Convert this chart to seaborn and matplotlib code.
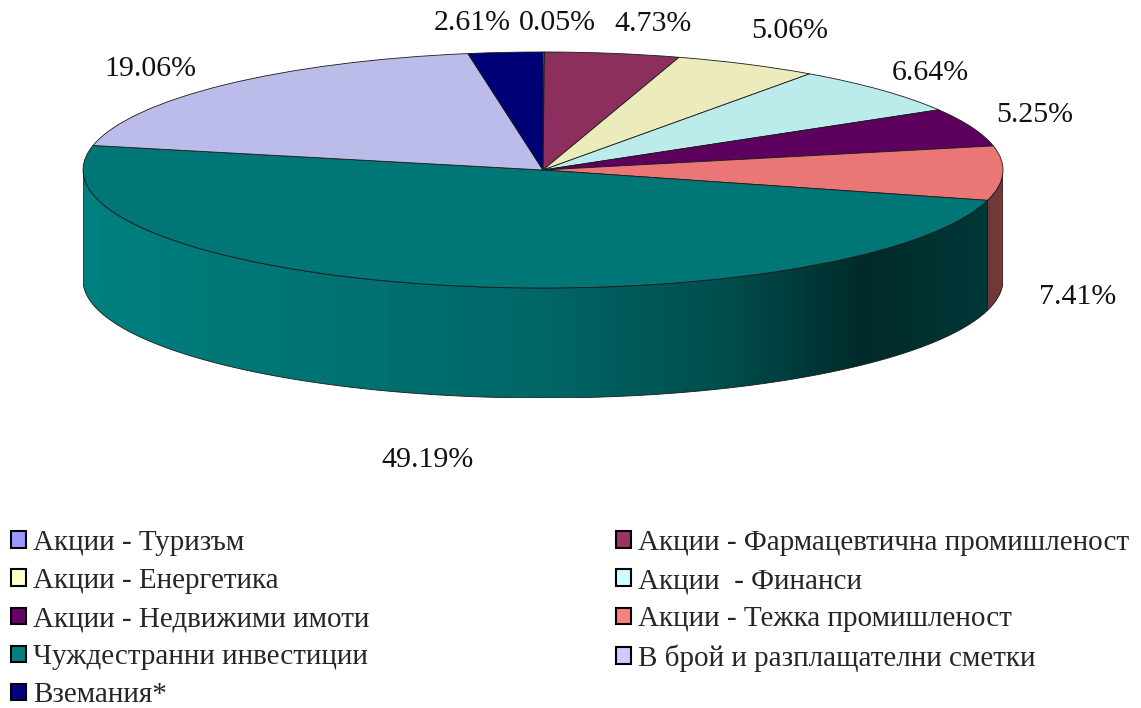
import matplotlib
matplotlib.use("Agg")
import matplotlib.pyplot as plt
import matplotlib.colors as mcolors
from matplotlib.patches import Patch, Polygon
import numpy as np
import seaborn as sns

# data
categories = [
    "Акции - Туризъм",
    "Акции - Фармацевтична промишленост",
    "Акции - Енергетика",
    "Акции  - Финанси",
    "Акции - Недвижими имоти",
    "Акции - Тежка промишленост",
    "Чуждестранни инвестиции",
    "В брой и разплащателни сметки",
    "Вземания*",
]
shares = [0.05, 4.73, 5.06, 6.64, 5.25, 7.41, 49.19, 19.06, 2.61]
base_colors = ["#9999FF", "#993366", "#FFFFCC", "#CCFFFF", "#660066",
               "#FF8080", "#008080", "#CCCCFF", "#000080"]

# where Excel put the percentage labels (pixel coords in the original)
label_pos = [(557, 23), (653, 24), (790, 31), (930, 73), (1035, 115),
             (1078, 297), (427, 460), (150, 69), (472, 23)]

sns.set_theme(style="white")
plt.rcParams["font.family"] = ["Liberation Serif", "DejaVu Serif"]

W, H = 1141, 708
fig = plt.figure(figsize=(W / 100, H / 100), dpi=100)

# pie axes: squash a unit circle into the ellipse, with room for the side wall
cx_left, cx_right, top_y, ry = 83, 1003, 52, 118
depth = 110 / ry
ax_h = ry * (2 + depth)
pax = fig.add_axes([cx_left / W, (H - top_y - ax_h) / H, (cx_right - cx_left) / W, ax_h / H])

top_colors = [tuple(np.array(mcolors.to_rgb(c)) * 0.92) for c in base_colors]
wedges, _ = pax.pie(shares, colors=top_colors, startangle=90, counterclock=False,
                    wedgeprops=dict(edgecolor="#1a1a1a", linewidth=0.6))
for w in wedges:
    w.set_zorder(3)


def shade(x):
    # brightness of the side wall across the pie, left -> right
    return np.interp(x, [-1, 0, 0.4, 0.7, 1], [1.0, 0.8, 0.6, 0.33, 0.45])


# side wall (front half only), a gradient image clipped to each piece
gx = np.linspace(-1, 1, 600)
for w, c in zip(wedges, base_colors):
    rgb = np.array(mcolors.to_rgb(c))
    for k in (-1, 0, 1):
        a = max(w.theta1, 180 + 360 * k)
        b = min(w.theta2, 360 + 360 * k)
        if b <= a:
            continue
        ts = np.radians(np.linspace(a, b, max(int((b - a) * 3), 2)))
        xo = np.cos(ts)
        yo = np.sin(ts)
        outline = list(zip(xo, yo)) + list(zip(xo[::-1], yo[::-1] - depth))
        wall = Polygon(outline, closed=True, facecolor="none",
                       edgecolor="#1a1a1a", linewidth=0.6, zorder=2)
        pax.add_patch(wall)
        grad = np.clip(rgb[None, None, :] * shade(gx)[None, :, None], 0, 1)
        im = pax.imshow(grad, extent=(-1, 1, -1 - depth, 0.1), aspect="auto",
                        interpolation="bilinear", zorder=1)
        im.set_clip_path(wall)

pax.set_aspect("auto")
pax.set_xlim(-1, 1)
pax.set_ylim(-1 - depth, 1)
pax.axis("off")

# percentage labels
for (px, py), v in zip(label_pos, shares):
    fig.text(px / W, 1 - py / H, f"{v:.2f}%", ha="center", va="center",
             fontsize=21.5, color="#111111")

# legend, filled row by row as in the original
handles = [Patch(facecolor=c, edgecolor="black", linewidth=1.5) for c in base_colors]
leg_kw = dict(frameon=False, fontsize=21, handlelength=0.5, handleheight=0.5,
              handletextpad=0.25, labelspacing=0.415, borderpad=0, borderaxespad=0,
              loc="upper left")
left_idx = [0, 2, 4, 6, 8]
right_idx = [1, 3, 5, 7]
fig.legend([handles[i] for i in left_idx], [categories[i] for i in left_idx],
           bbox_to_anchor=(11 / W, 1 - 530 / H), **leg_kw)
fig.legend([handles[i] for i in right_idx], [categories[i] for i in right_idx],
           bbox_to_anchor=(616 / W, 1 - 530 / H), **leg_kw)

fig.savefig("out.png", dpi=100, facecolor="white")
